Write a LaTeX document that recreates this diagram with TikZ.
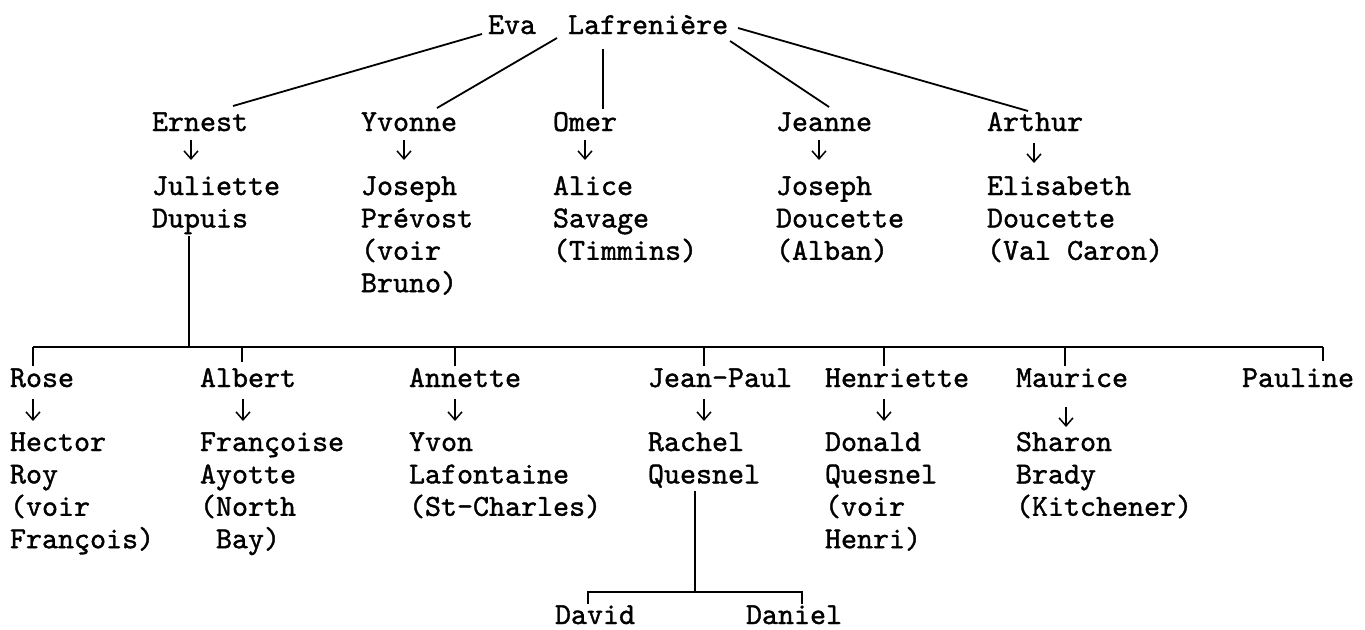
\documentclass[tikz,border=0pt]{standalone}
\usepackage{fontspec}
\setmonofont{lmmono10-regular}[Extension=.otf,FakeBold=1.2]
\usetikzlibrary{calc,arrows.meta}
\newcommand\tfont{\fontsize{30.5}{32.4}\selectfont\ttfamily}
\newcommand\blk[1]{\begin{tabular}[t]{@{}l@{}}#1\end{tabular}}
\begin{document}
\begin{tikzpicture}[x=1pt,y=-1pt,
  txt/.style={inner sep=0pt,outer sep=0pt,anchor=base west,font=\tfont},
  link/.style={line width=1.8pt},
  bar/.style={line width=1.5pt},
  thin/.style={line width=1.2pt},
  marry/.style={line width=1.5pt,-{Straight Barb[length=8pt,width=14pt]}}]
\useasboundingbox (0,0) rectangle (1365,629);
% generation 1
\node[txt] (eva) at (488,34) {Eva\ \ Lafrenière};
% generation 2
\node[txt] (ernest) at (152,131) {Ernest};
\node[txt] (yvonne) at (361,131) {Yvonne};
\node[txt] (omer)   at (553,131) {Omer};
\node[txt] (jeanne) at (776,131) {Jeanne};
\node[txt] (arthur) at (987,131) {Arthur};
\node[txt] (juliette)  at (152,195) {\blk{Juliette\\Dupuis}};
\node[txt] (josephp)   at (361,195) {\blk{Joseph\\Prévost\\(voir\\Bruno)}};
\node[txt] (alice)     at (553,195) {\blk{Alice\\Savage\\(Timmins)}};
\node[txt] (josephd)   at (776,195) {\blk{Joseph\\Doucette\\(Alban)}};
\node[txt] (elisabeth) at (987,195) {\blk{Elisabeth\\Doucette\\(Val Caron)}};
% generation 3
\node[txt] (rose)      at (10,387)   {Rose};
\node[txt] (albert)    at (200,387)  {Albert};
\node[txt] (annette)   at (409,387)  {Annette};
\node[txt] (jeanpaul)  at (648,387)  {Jean-Paul};
\node[txt] (henriette) at (825,387)  {Henriette};
\node[txt] (maurice)   at (1016,387) {Maurice};
\node[txt] (pauline)   at (1242,387) {Pauline};
\node[txt] (hector)    at (10,451)   {\blk{Hector\\Roy\\(voir\\François)}};
\node[txt] (francoise) at (200,451)  {\blk{Françoise\\Ayotte\\(North\\\ Bay)}};
\node[txt] (yvon)      at (409,451)  {\blk{Yvon\\Lafontaine\\(St-Charles)}};
\node[txt] (rachel)    at (648,451)  {\blk{Rachel\\Quesnel}};
\node[txt] (donald)    at (825,451)  {\blk{Donald\\Quesnel\\(voir\\Henri)}};
\node[txt] (sharon)    at (1016,451) {\blk{Sharon\\Brady\\(Kitchener)}};
% generation 4
\node[txt] (david)  at (555,624) {David};
\node[txt] (daniel) at (746,624) {Daniel};

% links from Eva
\draw[link] ($(eva.base west)+(-6,0)$)   -- ($(ernest.base west)+(81,-25)$);
\draw[link] ($(eva.base west)+(69,4)$)   -- ($(yvonne.base west)+(76,-23)$);
\draw[link] ($(eva.base west)+(115,15)$) -- ($(omer.base west)+(50,-22)$);
\draw[link] ($(eva.base west)+(242,7)$)  -- ($(jeanne.base west)+(53,-24)$);
\draw[link] ($(eva.base west)+(250,-6)$) -- ($(arthur.base west)+(41,-20)$);

% marriages generation 2
\draw[marry] ($(ernest.base west)+(39,9)$) -- ($(juliette.base west)+(39,-35)$);
\draw[marry] ($(yvonne.base west)+(43,9)$) -- ($(josephp.base west)+(43,-35)$);
\draw[marry] ($(omer.base west)+(32,9)$)   -- ($(alice.base west)+(32,-35)$);
\draw[marry] ($(jeanne.base west)+(43,9)$) -- ($(josephd.base west)+(43,-35)$);
\draw[marry] ($(arthur.base west)+(47,12)$) -- ($(elisabeth.base west)+(47,-32)$);

% children of Ernest & Juliette
\coordinate (barL) at (33,347);
\coordinate (barR) at (1323,347);
\draw[thin] ($(juliette.base west)+(37,41)$) -- ($(juliette.base west)+(37,152)$);
\draw[bar] (barL) -- (barR);
\draw[bar] ($(rose.base west)+(23,-21)$)      -- ++(0,-19);
\draw[bar] ($(albert.base west)+(42,-25)$)    -- ++(0,-15);
\draw[bar] ($(annette.base west)+(46,-21)$)   -- ++(0,-19);
\draw[bar] ($(jeanpaul.base west)+(56,-21)$)  -- ++(0,-19);
\draw[bar] ($(henriette.base west)+(59,-21)$) -- ++(0,-19);
\draw[bar] ($(maurice.base west)+(49,-21)$)   -- ++(0,-19);
\draw[bar] ($(pauline.base west)+(81,-26)$)   -- ++(0,-14);

% marriages generation 3
\draw[marry] ($(rose.base west)+(23,12)$)      -- ($(hector.base west)+(23,-30)$);
\draw[marry] ($(albert.base west)+(43,12)$)    -- ($(francoise.base west)+(43,-30)$);
\draw[marry] ($(annette.base west)+(46,12)$)   -- ($(yvon.base west)+(46,-30)$);
\draw[marry] ($(jeanpaul.base west)+(56,12)$)  -- ($(rachel.base west)+(56,-30)$);
\draw[marry] ($(henriette.base west)+(59,12)$) -- ($(donald.base west)+(59,-30)$);
\draw[marry] ($(maurice.base west)+(50,20)$)   -- ($(sharon.base west)+(50,-24)$);

% children of Jean-Paul & Rachel
\draw[thin] ($(rachel.base west)+(47,40)$) -- ($(rachel.base west)+(47,141)$);
\draw[thin] ($(david.base west)+(33,-20)$) -- ++(0,-12) -| ($(daniel.base west)+(56,-20)$);
\end{tikzpicture}
\end{document}
